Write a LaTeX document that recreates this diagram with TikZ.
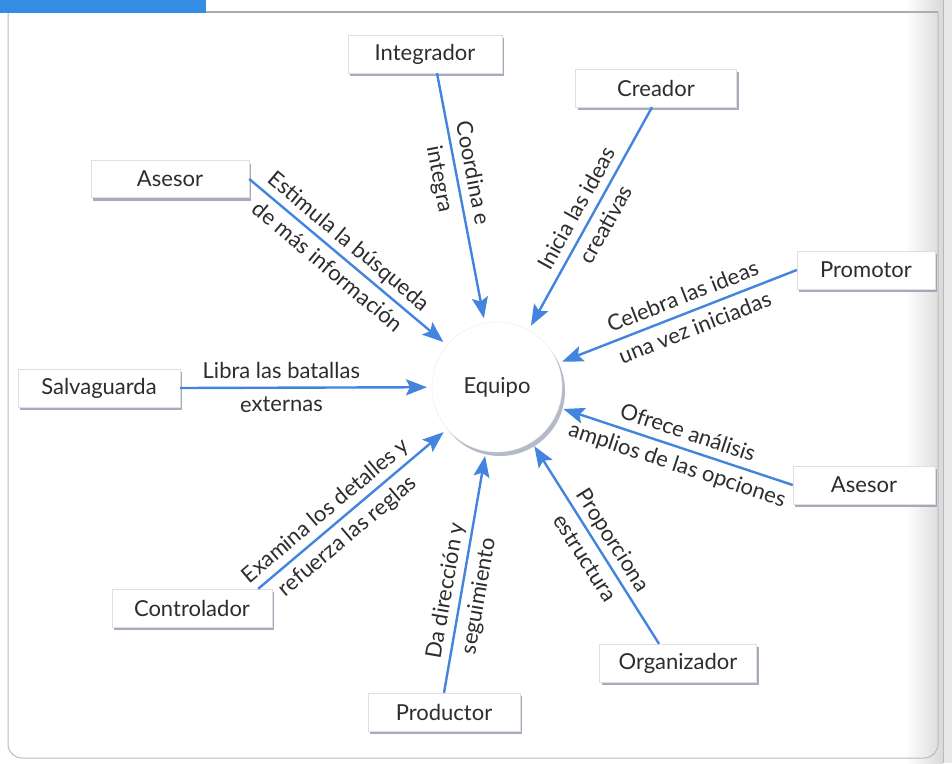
\documentclass[tikz,border=0pt]{standalone}
\usepackage{fontspec}
\setmainfont{Lato}
\usetikzlibrary{arrows.meta,shadows}
\definecolor{arrblue}{RGB}{66,132,222}
\definecolor{headblue}{RGB}{52,140,228}
\definecolor{txtc}{RGB}{45,45,45}
\definecolor{shadc}{RGB}{150,156,178}
\newcommand\figfont{\fontsize{22}{26}\selectfont}
\begin{document}
\begin{tikzpicture}[x=1pt,y=-1pt,
  box/.style={draw=gray!25, fill=white, minimum height=38pt, font=\figfont, text=txtc,
    drop shadow={shadow xshift=2pt, shadow yshift=-3pt, fill=shadc, opacity=0.85}},
  arr/.style={draw=arrblue, line width=2.4pt, -{Stealth[length=21pt,width=16pt,inset=4pt]}},
  lab/.style={sloped, font=\figfont, text=txtc, inner sep=2pt, text height=16pt, text depth=5pt},
  la/.style={lab, above=1pt},
  lb/.style={lab, below=5pt}]
\useasboundingbox (0,0) rectangle (952,763);
% page edge on the right
\shade[left color=white, right color=gray!30] (905,0) rectangle (943,763);
\fill[gray!18] (943,0) rectangle (952,763);
\draw[gray!55, line width=1pt] (943,0) -- (943,763);
% frame
\draw[gray!55, line width=1pt, rounded corners=14pt] (8,12) -- (8,758) -- (938,758) -- (938,12);
\draw[gray!65, line width=1.6pt] (206,12) -- (938,12);
\fill[headblue] (0,0) rectangle (206,13);
% centre
\node[circle, minimum size=130pt, fill=white, draw=gray!15, font=\figfont, text=txtc, outer sep=5pt,
  drop shadow={shadow xshift=3pt, shadow yshift=-4pt, fill=shadc, opacity=0.7}] (eq) at (497,387) {Equipo};
% roles
\node[box, minimum width=154pt] (int) at (425,54) {Integrador};
\node[box, minimum width=161pt] (cre) at (656,88) {Creador};
\node[box, minimum width=158pt, minimum height=37pt] (as1) at (170,179) {Asesor};
\node[box, minimum width=138pt] (pro) at (866,270) {Promotor};
\node[box, minimum width=162pt] (sal) at (99,388) {Salvaguarda};
\node[box, minimum width=142pt] (as2) at (864,485) {Asesor};
\node[box, minimum width=160pt] (ctl) at (192,608) {Controlador};
\node[box, minimum width=157pt] (org) at (678,663) {Organizador};
\node[box, minimum width=152pt] (prd) at (444,712) {Productor};
% connectors
\draw[arr] ([xshift=12pt]int.south) -- (eq)
  node[la, pos=.42] {Coordina e} node[lb, pos=.42] {integra};
\draw[arr] ([xshift=-4pt]cre.south) -- (eq)
  node[la, pos=.5] {Inicia las ideas} node[lb, pos=.5] {creativas};
\draw[arr] (as1.east) -- (eq)
  node[la, pos=.46] {Estimula la búsqueda} node[lb, pos=.46] {de más información};
\draw[arr] (pro.west) -- (eq)
  node[la, pos=.46] {Celebra las ideas} node[lb, pos=.46] {una vez iniciadas};
\draw[arr] (sal.east) -- (eq)
  node[la, pos=.41] {Libra las batallas} node[lb, pos=.41] {externas};
\draw[arr] (as2.west) -- (eq)
  node[la, pos=.48] {Ofrece análisis} node[lb, pos=.48] {amplios de las opciones};
\draw[arr] ([xshift=-14pt]ctl.north east) -- (eq)
  node[la, pos=.42] {Examina los detalles y} node[lb, pos=.42] {refuerza las reglas};
\draw[arr] (prd.north) -- (eq)
  node[la, pos=.42] {Da dirección y} node[lb, pos=.42] {seguimiento};
\draw[arr] ([xshift=-19pt]org.north) -- (eq)
  node[la, pos=.48] {Proporciona} node[lb, pos=.48] {estructura};
\end{tikzpicture}
\end{document}
